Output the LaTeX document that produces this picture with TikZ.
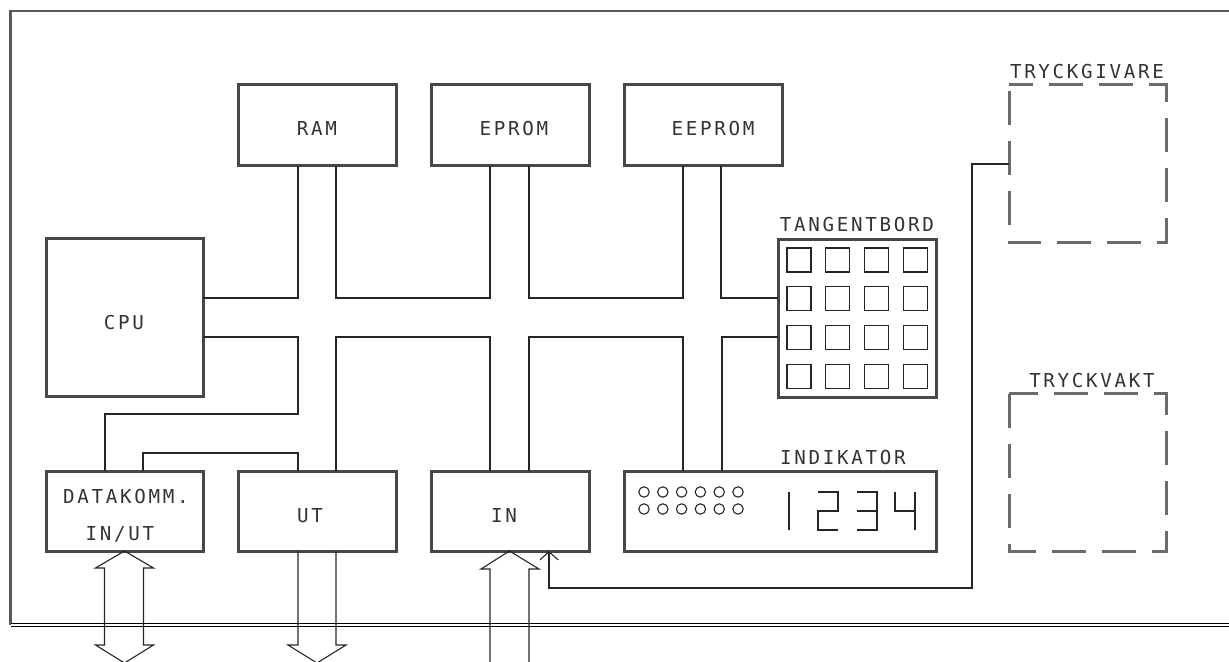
\documentclass[tikz,border=0pt]{standalone}
\usepackage{fontspec}
\newfontfamily\plotfont{DejaVu Sans Mono}[LetterSpace=14]
\usetikzlibrary{arrows.meta,calc}
\tikzset{
  box/.style={draw=black!72, line width=1.5pt, inner sep=0pt, outer sep=0pt},
  dbox/.style={inner sep=0pt, outer sep=0pt},
  dashbox/.style={draw=black!58, line width=1.5pt, dash pattern=on 17pt off 8pt},
  wire/.style={draw=black!85, line width=0.55pt},
  frameline/.style={draw=black!65, line width=1.3pt},
  lbl/.style={font=\plotfont\fontsize{9.6pt}{11pt}\selectfont, text=black!80, inner sep=0pt, text height=7pt, text depth=0pt},
  keyst/.style={draw=black!85, line width=0.55pt},
  bigarrow/.style={draw=black!85, line width=0.55pt, line join=miter}
}
\begin{document}
\begin{tikzpicture}[x=0.5pt, y=-0.5pt]
\useasboundingbox (0,0) rectangle (1229,662);

% outer frame
\coordinate (ftl) at (10.5,11);
\coordinate (ftr) at (1229,11);
\coordinate (fbl) at (10.5,625);
\coordinate (fbr) at (1229,625);
\draw[frameline] (ftr) -- (ftl) -- (fbl);
\draw[draw=black, line width=0.55pt, double=white, double distance=0.6pt] (fbl) -- (fbr);

% boxes
\node[box, minimum width=79pt, minimum height=40.5pt] (ram) at (317,125.5) {};
\node[box, minimum width=79pt, minimum height=40.5pt] (eprom) at (510,125.5) {};
\node[box, minimum width=79pt, minimum height=40.5pt] (eeprom) at (703,125.5) {};
\node[box, minimum width=78.5pt, minimum height=78.5pt] (cpu) at (124.5,317.5) {};
\node[box, minimum width=78.5pt, minimum height=40pt] (dk) at (124.5,511) {};
\node[box, minimum width=79pt, minimum height=40pt] (ut) at (317,511) {};
\node[box, minimum width=79pt, minimum height=40pt] (inb) at (510,511) {};
\node[box, minimum width=156pt, minimum height=40pt] (ind) at (780,511) {};
\node[box, minimum width=79pt, minimum height=78.5pt] (tang) at (857,318.5) {};
\node[dbox, minimum width=78.5pt, minimum height=79pt] (tg) at (1087.5,164) {};
\node[dbox, minimum width=78.5pt, minimum height=79pt] (tv) at (1087.5,472) {};

\draw[dashbox, dash phase=5pt] (tg.north west) -- (tg.north east) -- (tg.south east) -- (tg.south west) -- cycle;
\draw[dashbox, dash phase=2.5pt] (tv.north west) -- (tv.north east) -- (tv.south east) -- (tv.south west) -- cycle;

% labels
\node[lbl] (tram) at (317,129) {RAM};
\node[lbl] (teprom) at (514,129) {EPROM};
\node[lbl] (teeprom) at (713,129) {EEPROM};
\node[lbl] (tcpu) at (124,322) {CPU};
\node[lbl] (tdk1) at (126,496) {DATAKOMM.};
\node[lbl] (tdk2) at (120,533) {IN/UT};
\node[lbl] (tut) at (310,515) {UT};
\node[lbl] (tin) at (504,515) {IN};
\node[lbl] (ttang) at (857,225) {TANGENTBORD};
\node[lbl] (tind) at (843,457) {INDIKATOR};
\node[lbl] (ttg) at (1087,72) {TRYCKGIVARE};
\node[lbl] (ttv) at (1092,380) {TRYCKVAKT};

% bus coordinates
\coordinate (a1) at (298,298);
\coordinate (a2) at (336,298);
\coordinate (a3) at (490,298);
\coordinate (a4) at (529,298);
\coordinate (a5) at (683,298);
\coordinate (a6) at (721,298);
\coordinate (b1) at (298,337);
\coordinate (b2) at (336,337);
\coordinate (b3) at (490,337);
\coordinate (b4) at (529,337);
\coordinate (b5) at (683,337);
\coordinate (b6) at (722,337);
\coordinate (c1) at (298,414);
\coordinate (c2) at (105,414);
\coordinate (d1) at (143,453);
\coordinate (d2) at (298,453);
\coordinate (e1) at (972,164);
\coordinate (e2) at (972,588);
\coordinate (e3) at (549,588);

% upper wires
\draw[wire] (cpu.east |- a1) -- (a1) -- (a1 |- ram.south);
\draw[wire] (a2 |- ram.south) -- (a2) -- (a3) -- (a3 |- eprom.south);
\draw[wire] (a4 |- eprom.south) -- (a4) -- (a5) -- (a5 |- eeprom.south);
\draw[wire] (a6 |- eeprom.south) -- (a6) -- (a6 -| tang.west);
% lower wires
\draw[wire] (cpu.east |- b1) -- (b1) -- (c1) -- (c2) -- (c2 |- dk.north);
\draw[wire] (d1 |- dk.north) -- (d1) -- (d2) -- (d2 |- ut.north);
\draw[wire] (b2 |- ut.north) -- (b2) -- (b3) -- (b3 |- inb.north);
\draw[wire] (b4 |- inb.north) -- (b4) -- (b5) -- (b5 |- ind.north);
\draw[wire] (b6 |- ind.north) -- (b6) -- (b6 -| tang.west);
% pressure transmitter to IN
\draw[wire, -{Straight Barb[length=4pt, width=9pt, line width=0.55pt]}] (tg.west) -- (e1) -- (e2) -- (e3) -- (e3 |- inb.south);

% keyboard keys
\foreach \i in {0,...,3}
  \foreach \j in {0,...,3}
    \draw[keyst] ({787+38.7*\i},{248+38.7*\j}) rectangle ++(24,24);

% indicator LEDs
\foreach \i in {0,...,5} {
  \draw[keyst] ({644+18.8*\i},492) circle[radius=2.6pt];
  \draw[keyst] ({644+18.8*\i},509) circle[radius=2.6pt];
}
% digits 1234
\draw[keyst] (789,492) -- (789,530);
\draw[keyst] (818,492) -- (838,492) -- (838,511) -- (818,511) -- (818,530) -- (838,530);
\draw[keyst] (857,492) -- (877,492) -- (877,530) -- (857,530);
\draw[keyst] (857,511) -- (877,511);
\draw[keyst] (895,492) -- (895,511) -- (915,511);
\draw[keyst] (915,492) -- (915,530);

% big arrows
% DATAKOMM bidirectional
\draw[bigarrow] ($(dk.south)+(-20,94)$) -- ++(0,-77) -- ++(-9,0) -- (dk.south) -- ++(29,17) -- ++(-10,0) -- ++(0,77) -- ++(10,0) -- ++(-29,18) -- ++(-29,-18) -- cycle;
% UT output
\draw[bigarrow] (ut.south -| a1) -- ++(0,94) -- ++(-10,0) -- ++(29,18) -- ++(29,-18) -- ++(-10,0) -- (ut.south -| a2);
% IN input
\draw[bigarrow] (490,664) -- (490,569) -- (481,569) -- (509.5,551) -- (539,569) -- (529,569) -- (529,664);
\end{tikzpicture}
\end{document}
